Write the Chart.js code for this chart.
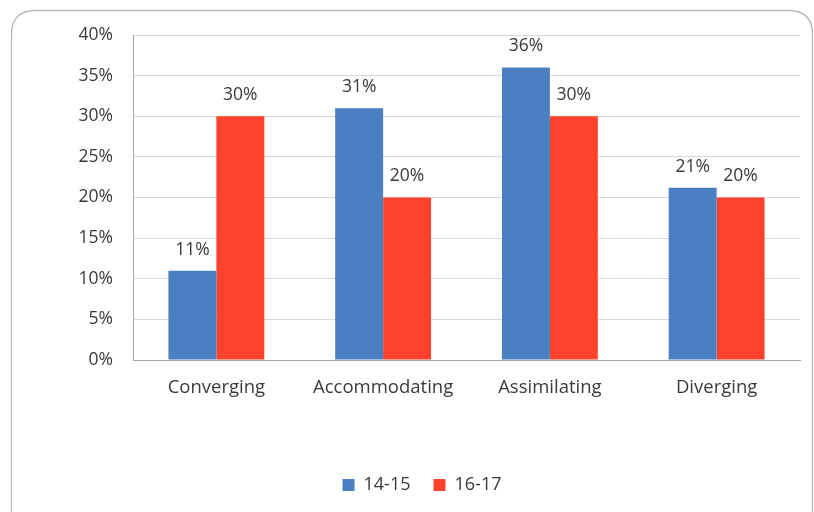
<!DOCTYPE html>
<html>
<head>
<meta charset="utf-8">
<script src="https://cdn.jsdelivr.net/npm/chart.js@4"></script>
<style>
  html, body { margin: 0; padding: 0; background: #fff; }
  #wrap { width: 814px; height: 512px; }
</style>
</head>
<body>
<div id="wrap"><canvas id="styles-chart"></canvas></div>
<script>
// Categories and values (percent)
const categories = ['Converging', 'Accommodating', 'Assimilating', 'Diverging'];
const seriesNames = ['14-15', '16-17'];
const values1415 = [11, 31, 36, 21.2];
const values1617 = [30, 20, 30, 20];
const labels1415 = ['11%', '31%', '36%', '21%'];
const labels1617 = ['30%', '20%', '30%', '20%'];
const yTicks = [0, 5, 10, 15, 20, 25, 30, 35, 40];

const FONT = '"Open Sans", sans-serif';
const TEXT = '#3a3a3a';

// rounded frame around the whole chart
const framePlugin = {
  id: 'frame',
  beforeDraw(chart) {
    const ctx = chart.ctx;
    const x = 11.5, y = 10.5, w = 801, h = 530, r = 24;
    ctx.save();
    ctx.strokeStyle = '#b4b8b8';
    ctx.lineWidth = 1.3;
    ctx.beginPath();
    ctx.moveTo(x + r, y);
    ctx.lineTo(x + w - r, y);
    ctx.quadraticCurveTo(x + w, y, x + w, y + r);
    ctx.lineTo(x + w, y + h);
    ctx.moveTo(x, y + h);
    ctx.lineTo(x, y + r);
    ctx.quadraticCurveTo(x, y, x + r, y);
    ctx.stroke();
    ctx.restore();
  }
};

// value labels above the bars
const valueLabels = {
  id: 'valueLabels',
  afterDatasetsDraw(chart) {
    const ctx = chart.ctx;
    ctx.save();
    ctx.font = '17.5px ' + FONT;
    ctx.fillStyle = TEXT;
    ctx.textAlign = 'center';
    ctx.textBaseline = 'middle';
    chart.data.datasets.forEach((ds, i) => {
      chart.getDatasetMeta(i).data.forEach((bar, j) => {
        ctx.fillText(ds.valueText[j], bar.x, bar.y - 21);
      });
    });
    ctx.restore();
  }
};

new Chart(document.getElementById('styles-chart'), {
  type: 'bar',
  data: {
    labels: categories,
    datasets: [
      { label: seriesNames[0], data: values1415, valueText: labels1415, backgroundColor: '#4a7fc1' },
      { label: seriesNames[1], data: values1617, valueText: labels1617, backgroundColor: '#fe432d' }
    ]
  },
  options: {
    responsive: true,
    maintainAspectRatio: false,
    animation: false,
    devicePixelRatio: 1,
    categoryPercentage: 0.575,
    barPercentage: 1,
    layout: { padding: { left: 44, right: 14, top: 35, bottom: 8 } },
    plugins: {
      tooltip: { enabled: false },
      legend: {
        position: 'bottom',
        labels: {
          boxWidth: 12,
          boxHeight: 12,
          padding: 23,
          color: TEXT,
          font: { family: FONT, size: 18 }
        }
      }
    },
    scales: {
      x: {
        grid: { display: false, drawTicks: false },
        border: { color: '#a6a6a6' },
        ticks: { color: TEXT, padding: 17, font: { family: FONT, size: 18.5 } },
        afterFit(scale) { scale.height = 93; }
      },
      y: {
        min: 0,
        max: 40,
        afterBuildTicks(scale) { scale.ticks = yTicks.map(v => ({ value: v })); },
        grid: { color: '#d9d9d9', drawTicks: false },
        border: { color: '#a6a6a6' },
        ticks: {
          color: TEXT,
          padding: 20,
          font: { family: FONT, size: 17.5 },
          callback: v => v + '%'
        },
        afterFit(scale) { scale.width = 89; }
      }
    }
  },
  plugins: [framePlugin, valueLabels]
});
</script>
</body>
</html>
